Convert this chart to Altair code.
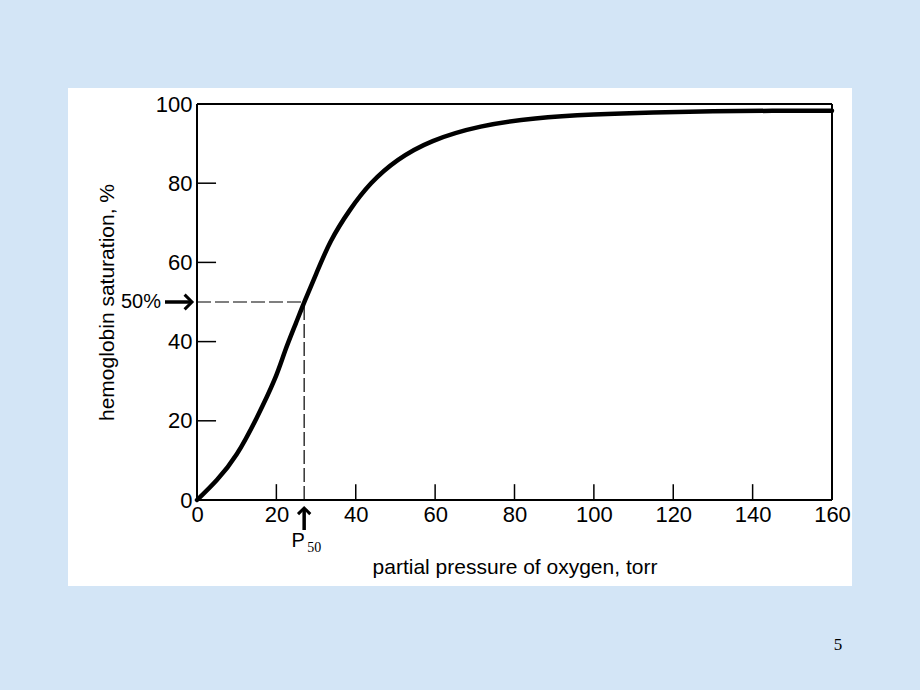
import altair as alt
import pandas as pd

# ---- data ----
pressure = [0, 5, 10, 15, 20, 22, 25, 27, 30, 33.5, 38.5, 43.6, 50.3, 58.7, 71.3, 85, 100, 115, 130, 145, 160]
saturation = [0, 4.8, 11, 20.5, 31, 37.4, 44.8, 50, 57, 65.5, 73.4, 80.1, 86.0, 90.8, 94.6, 96.5, 97.4, 97.9, 98.2, 98.3, 98.3]
x_labels = [0, 20, 40, 60, 80, 100, 120, 140, 160]
y_labels = [0, 20, 40, 60, 80, 100]
inner_x_ticks = [20, 40, 60, 80, 100, 120, 140]
inner_y_ticks = [20, 40, 60, 80]
p50 = [27]
half_sat = [50]

FONT = "Liberation Sans"
xs = alt.Scale(domain=[0, 160], nice=False, zero=False)
ys = alt.Scale(domain=[0, 100], nice=False, zero=False)

XAXIS = alt.Axis(
    values=x_labels, format="d", ticks=False, domain=False, grid=False, zindex=2,
    labelFont=FONT, labelFontSize=22, labelColor="black", labelPadding=4,
    labelFlush=False,
    title="partial pressure of oxygen, torr", titleFont=FONT, titleFontSize=21,
    titleFontWeight="normal", titleColor="black", titleX=317.5, titleY=67,
    titleBaseline="middle", titleAlign="center")
YAXIS = alt.Axis(
    values=y_labels, format="d", ticks=False, domain=False, grid=False, zindex=2,
    labelFont=FONT, labelFontSize=22, labelColor="black", labelPadding=5,
    labelFlush=False,
    title="hemoglobin saturation, %", titleFont=FONT, titleFontSize=21,
    titleFontWeight="normal", titleColor="black", titleX=-90, titleY=198,
    titleAngle=270, titleBaseline="middle", titleAlign="center")


def X(field):
    return alt.X(field, scale=xs, axis=XAXIS)


def Y(field):
    return alt.Y(field, scale=ys, axis=YAXIS)


dummy = pd.DataFrame({"a": [0]})

panel = alt.Chart(dummy).mark_rect(color="white").encode(
    x=alt.value(-129), x2=alt.value(655), y=alt.value(-16), y2=alt.value(482)
)

curve = alt.Chart(pd.DataFrame({"p": pressure, "s": saturation})).mark_line(
    color="black", strokeWidth=4.5, interpolate="basis", strokeCap="round"
).encode(x=X("p:Q"), y=Y("s:Q"))

frame_df = pd.DataFrame({
    "x": [0, 0, 0, 160], "x2": [160, 160, 0, 160],
    "y": [0, 100, 0, 0], "y2": [0, 100, 100, 100],
})
frame = alt.Chart(frame_df).mark_rule(color="black", strokeWidth=2).encode(
    x=X("x:Q"), x2="x2:Q", y=Y("y:Q"), y2="y2:Q",
)

ytick = alt.Chart(pd.DataFrame({"t": inner_y_ticks, "a": [0] * 4, "b": [4.8] * 4})).mark_rule(
    color="black", strokeWidth=1.5).encode(
    x=X("a:Q"), x2="b:Q", y=Y("t:Q"),
)
xtick = alt.Chart(pd.DataFrame({"t": inner_x_ticks, "a": [0] * 7, "b": [4.0] * 7})).mark_rule(
    color="black", strokeWidth=1.5).encode(
    x=X("t:Q"), y=Y("a:Q"), y2="b:Q",
)

dash_h = alt.Chart(pd.DataFrame({"a": [0], "b": p50, "s": half_sat})).mark_rule(
    color="black", strokeWidth=1.2, strokeDash=[14, 4]).encode(
    x=X("a:Q"), x2="b:Q", y=Y("s:Q"),
)
dash_v = alt.Chart(pd.DataFrame({"p": p50, "a": [0], "s": half_sat})).mark_rule(
    color="black", strokeWidth=1.2, strokeDash=[14, 4]).encode(
    x=X("p:Q"), y=Y("a:Q"), y2="s:Q",
)

half_df = pd.DataFrame({"s": half_sat, "label": ["50%"]})
half_text = alt.Chart(half_df).mark_text(
    font=FONT, fontSize=20, align="right", baseline="middle", color="black").encode(
    x=alt.value(-36), y=Y("s:Q"), text="label:N"
)
half_shaft = alt.Chart(half_df).mark_rule(color="black", strokeWidth=3.5).encode(
    x=alt.value(-32), x2=alt.value(-6), y=Y("s:Q")
)
half_head = alt.Chart(half_df).mark_point(
    shape="M-1,-1L0,0L-1,1", filled=False, stroke="black", strokeWidth=3,
    size=220, strokeJoin="miter", opacity=1).encode(
    x=alt.value(-5), y=Y("s:Q")
)

p_df = pd.DataFrame({"p": p50, "P": ["P"], "sub": ["50"]})
p_shaft = alt.Chart(p_df).mark_rule(color="black", strokeWidth=3.5).encode(
    x=X("p:Q"), y=alt.value(405), y2=alt.value(426)
)
p_head = alt.Chart(p_df).mark_point(
    shape="M-1,1L0,0L1,1", filled=False, stroke="black", strokeWidth=3,
    size=150, strokeJoin="miter", opacity=1).encode(
    x=X("p:Q"), y=alt.value(404)
)
p_text = alt.Chart(p_df).mark_text(
    font=FONT, fontSize=20, align="center", baseline="middle", color="black", dx=-6).encode(
    x=X("p:Q"), y=alt.value(437), text="P:N"
)
p_sub = alt.Chart(p_df).mark_text(
    font="Liberation Serif", fontSize=14, align="center", baseline="middle", color="black", dx=10).encode(
    x=X("p:Q"), y=alt.value(444), text="sub:N"
)

page = alt.Chart(pd.DataFrame({"n": ["5"]})).mark_text(
    font="Liberation Serif", fontSize=17, align="center", baseline="middle", color="black").encode(
    x=alt.value(641), y=alt.value(541), text="n:N"
)

chart = alt.layer(
    panel, curve, frame, ytick, xtick, dash_h, dash_v,
    half_text, half_shaft, half_head, p_shaft, p_head, p_text, p_sub, page
).properties(
    width=635, height=396,
    autosize=alt.AutoSizeParams(type="none"),
    padding={"left": 197, "top": 104, "right": 88, "bottom": 190},
    background="#d3e5f6",
).configure_view(stroke="transparent")

chart.save("out.html", embed_options={"renderer": "svg", "actions": False})
